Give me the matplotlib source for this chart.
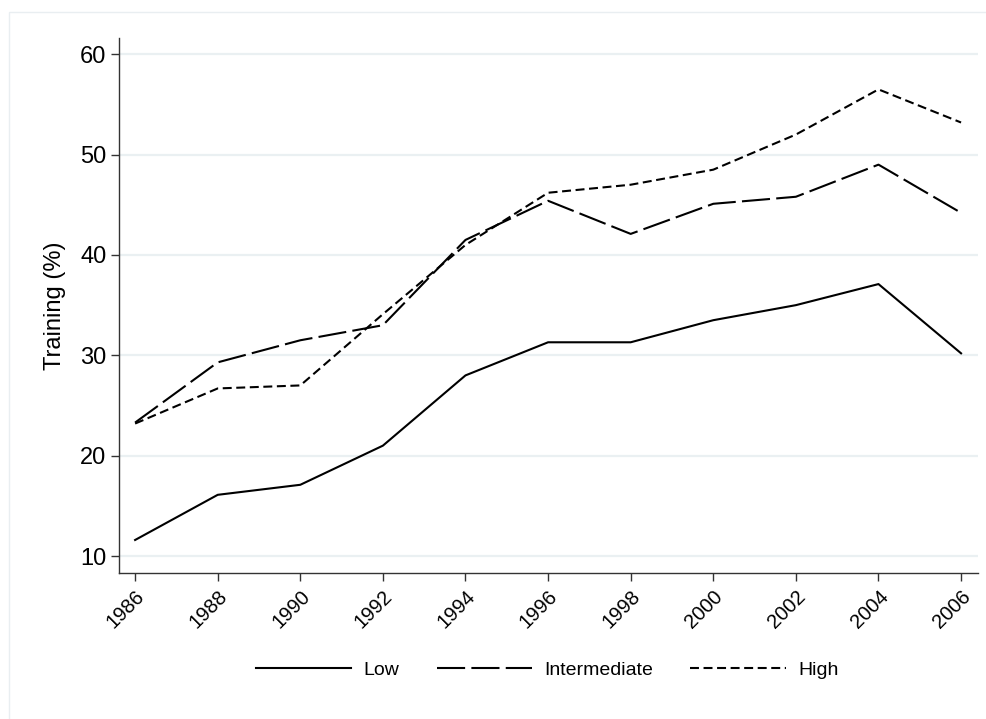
import matplotlib
matplotlib.use("Agg")
import matplotlib.pyplot as plt
from matplotlib.patches import Rectangle

# === Data ===
years = [1986, 1988, 1990, 1992, 1994, 1996, 1998, 2000, 2002, 2004, 2006]
low = [11.6, 16.1, 17.1, 21.0, 28.0, 31.3, 31.3, 33.5, 35.0, 37.1, 30.2]
intermediate = [23.3, 29.3, 31.5, 33.0, 41.5, 45.4, 42.1, 45.1, 45.8, 49.0, 44.2]
high = [23.2, 26.7, 27.0, 34.1, 41.0, 46.2, 47.0, 48.5, 52.0, 56.5, 53.2]
y_ticks = [10, 20, 30, 40, 50, 60]

plt.rcParams["font.family"] = ["Liberation Sans", "DejaVu Sans"]

fig = plt.figure(figsize=(9.86, 7.19), dpi=100)
fig.patch.set_facecolor("white")

# light outer frame (graph region border)
fig.patches.append(Rectangle((9 / 986, -0.05), 1.2, 1 - 12 / 719 + 0.05,
                             transform=fig.transFigure, fill=False,
                             edgecolor="#e9eef1", lw=1.0))

ax = fig.add_axes([119 / 986, 1 - 573 / 719, (978 - 119) / 986, (573 - 38) / 719])

lw = 1.5
ax.plot(years, low, color="black", lw=lw, label="Low")
ax.plot(years, intermediate, color="black", lw=lw, linestyle=(0, (13.5, 3.0)),
        label="Intermediate")
ax.plot(years, high, color="black", lw=lw, linestyle=(0, (4.3, 2.2)),
        label="High")

ax.set_xlim(1985.61, 2006.41)
ax.set_ylim(8.31, 61.62)
ax.set_xticks(years)
ax.set_xticklabels([str(y) for y in years], rotation=45, ha="right",
                   rotation_mode="anchor", fontsize=14.5)
ax.set_yticks(y_ticks)
ax.set_yticklabels([str(v) for v in y_ticks], fontsize=17)
ax.tick_params(axis="both", direction="out", length=6, width=1, color="#333333")
ax.tick_params(axis="y", pad=3)
ax.tick_params(axis="x", pad=4)

ax.grid(axis="y", color="#eaf0f2", lw=1.6)
ax.set_axisbelow(True)
for side in ["top", "right"]:
    ax.spines[side].set_visible(False)
for side in ["left", "bottom"]:
    ax.spines[side].set_color("#333333")
    ax.spines[side].set_linewidth(1.0)

ax.set_ylabel("Training (%)", fontsize=17, labelpad=10)

fig.legend(loc="center", bbox_to_anchor=(0.555, 1 - 670 / 719), ncol=3,
           frameon=False, fontsize=14, handlelength=4.9, handletextpad=0.65,
           columnspacing=1.9)

fig.savefig("out.png", dpi=100)
